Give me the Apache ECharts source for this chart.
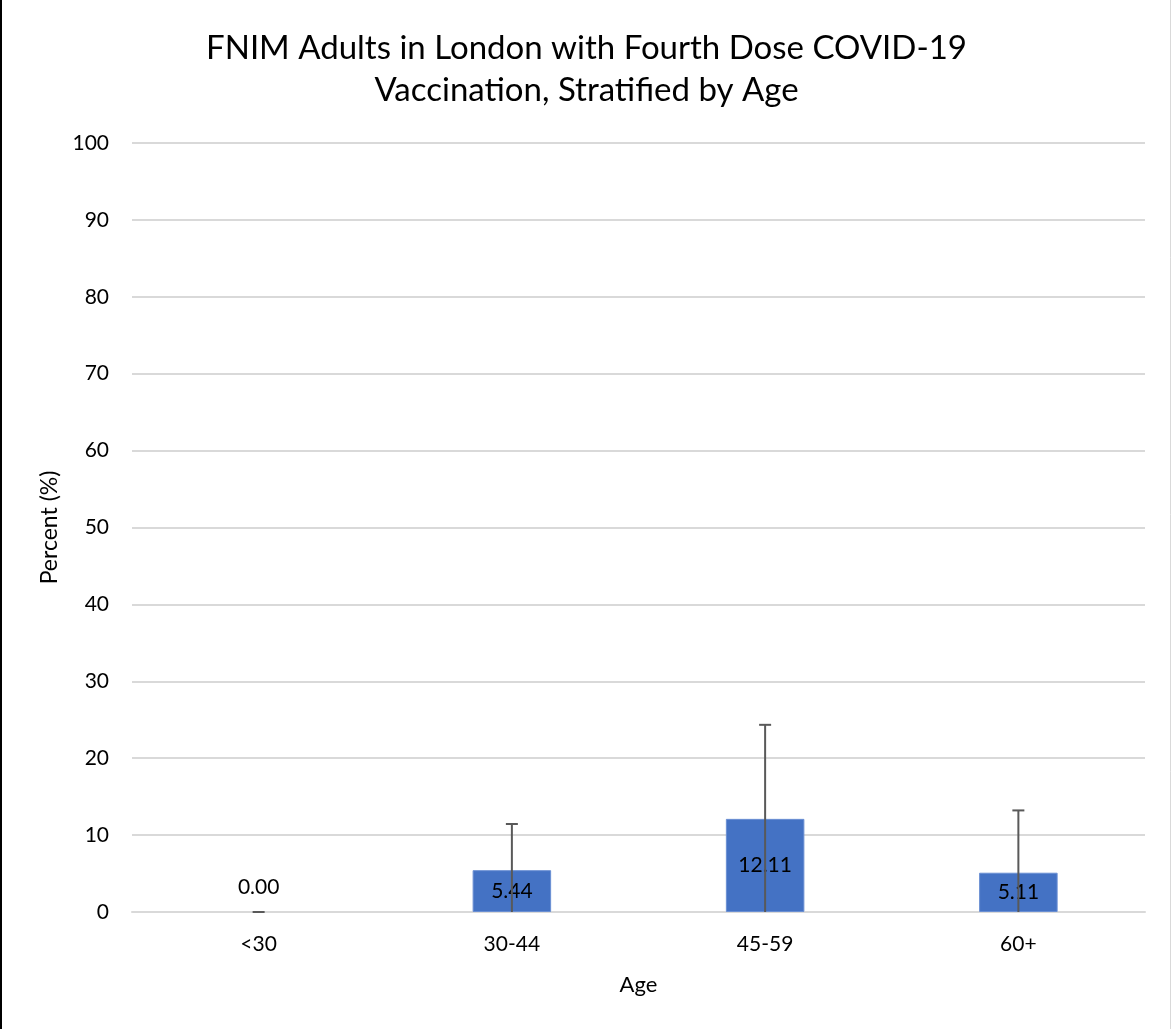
<!DOCTYPE html>
<html>
<head>
<meta charset="utf-8">
<script src="https://cdn.jsdelivr.net/npm/echarts@6/dist/echarts.min.js"></script>
<style>
html,body{margin:0;padding:0;background:#fff;}
#chart{width:1173px;height:1029px;}
</style>
</head>
<body>
<div id="chart"></div>
<script>
var titleText = 'FNIM Adults in London with Fourth Dose COVID-19\nVaccination, Stratified by Age';
var categories = ['<30', '30-44', '45-59', '60+'];
var values = [0.00, 5.44, 12.11, 5.11];
var errorPlus = [0.00, 6.0, 12.23, 8.1];
var yTicks = [0, 10, 20, 30, 40, 50, 60, 70, 80, 90, 100];

var FONT = 'Lato, "Open Sans", sans-serif';
var chart = echarts.init(document.getElementById('chart'), null, {renderer: 'canvas'});

var errData = categories.map(function (c, i) {
  return [i, Math.max(0, values[i] - errorPlus[i]), values[i] + errorPlus[i]];
});

chart.setOption({
  animation: false,
  backgroundColor: '#ffffff',
  title: {
    text: titleText,
    left: 'center',
    top: 22,
    textStyle: {fontFamily: FONT, fontSize: 33, fontWeight: 'normal', color: '#000', lineHeight: 42}
  },
  graphic: [
    {type: 'line', shape: {x1: 1, y1: 0, x2: 1, y2: 1029}, style: {stroke: '#000', lineWidth: 2}},
    {type: 'line', shape: {x1: 1170.5, y1: 0, x2: 1170.5, y2: 1029}, style: {stroke: '#d9d9d9', lineWidth: 1}}
  ],
  grid: {left: 132, right: 28, top: 143, bottom: 117, containLabel: false},
  xAxis: {
    type: 'category',
    data: categories,
    name: 'Age',
    nameLocation: 'middle',
    nameGap: 62,
    nameTextStyle: {fontFamily: FONT, fontSize: 22, color: '#000'},
    axisLine: {show: true, lineStyle: {color: '#d9d9d9', width: 2}},
    axisTick: {show: false},
    axisLabel: {fontFamily: FONT, fontSize: 21, color: '#000', margin: 22}
  },
  yAxis: {
    type: 'value',
    min: 0,
    max: 100,
    interval: 10,
    name: 'Percent (%)',
    nameLocation: 'middle',
    nameGap: 70,
    nameTextStyle: {fontFamily: FONT, fontSize: 23, color: '#000'},
    axisLine: {show: false},
    axisTick: {show: false},
    splitLine: {lineStyle: {color: '#d9d9d9', width: 2}},
    axisLabel: {
      fontFamily: FONT, fontSize: 21, color: '#000', margin: 23,
      formatter: function (v) { return yTicks.indexOf(v) >= 0 ? String(v) : ''; }
    }
  },
  series: [
    {
      type: 'bar',
      data: values.map(function (v) {
        return v === 0 ? {
          value: v,
          itemStyle: {borderWidth: 0},
          label: {position: 'top', distance: 14}
        } : {value: v, label: {position: 'inside'}};
      }),
      barWidth: '31%',
      itemStyle: {color: '#4472c4', borderColor: '#6a8fd3', borderWidth: 1},
      label: {
        show: true,
        fontFamily: FONT, fontSize: 21, color: '#000',
        formatter: function (p) { return p.value.toFixed(2); }
      },
      z: 2
    },
    {
      type: 'custom',
      data: errData,
      z: 5,
      renderItem: function (params, api) {
        var x = api.value(0);
        var lo = api.coord([x, api.value(1)]);
        var hi = api.coord([x, api.value(2)]);
        var cap = 6;
        var style = {stroke: '#595959', lineWidth: 2};
        return {
          type: 'group',
          children: [
            {type: 'line', shape: {x1: hi[0], y1: lo[1], x2: hi[0], y2: hi[1]}, style: style},
            {type: 'line', shape: {x1: hi[0] - cap, y1: hi[1], x2: hi[0] + cap, y2: hi[1]}, style: style}
          ]
        };
      }
    }
  ]
});
</script>
</body>
</html>
